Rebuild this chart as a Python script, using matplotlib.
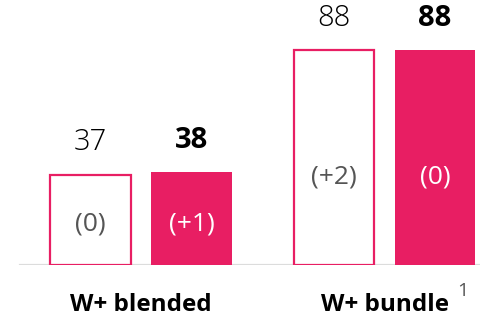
import matplotlib
matplotlib.use("Agg")
import matplotlib.pyplot as plt

categories = ["W+ blended", "W+ bundle"]
prev_values = [37, 88]
curr_values = [38, 88]
prev_changes = ["(0)", "(+2)"]
curr_changes = ["(+1)", "(0)"]
footnote = "1"

PINK = "#E81E63"
GRAY_TXT = "#555555"
plt.rcParams['font.family'] = ['Open Sans', 'DejaVu Sans']

fig = plt.figure(figsize=(4.8, 3.2), dpi=100)
ax = fig.add_axes([0, 55/320, 1, 244.3/320])
ax.set_xlim(-0.579, 1.392)
ax.set_ylim(0, 100)
ax.axis('off')

off = 0.2074
w = 0.33
inner_frac = [0.45, 0.41]
xs = list(range(len(categories)))

ax.bar([x - off for x in xs], prev_values, width=w, facecolor='white',
       edgecolor=PINK, linewidth=1.6, zorder=2)
ax.bar([x + off for x in xs], curr_values, width=w, facecolor=PINK,
       edgecolor='none', zorder=2)
ax.axhline(0, xmin=20/480, xmax=1, color='#dcdcdc', linewidth=1.6, zorder=1)

for i, x in enumerate(xs):
    ax.annotate(str(prev_values[i]), (x - off, prev_values[i]), xytext=(0, 23),
                textcoords='offset points', ha='center', va='center',
                fontsize=21, color='black', fontweight='light')
    ax.annotate(str(curr_values[i]), (x + off, curr_values[i]), xytext=(0, 23),
                textcoords='offset points', ha='center', va='center',
                fontsize=21, color='black', fontweight='bold')
    ax.text(x - off, prev_values[i] * inner_frac[i], prev_changes[i],
            ha='center', va='center', fontsize=19, color=GRAY_TXT)
    ax.text(x + off, prev_values[i] * inner_frac[i], curr_changes[i],
            ha='center', va='center', fontsize=19, color='white')
    ax.annotate(categories[i], (x, 0), xytext=(0, -28.5), textcoords='offset points',
                ha='center', va='center', fontsize=17.5, fontweight='bold', color='black')

ax.annotate(footnote, (1, 0), xytext=(56, -18.5), textcoords='offset points',
            ha='center', va='center', fontsize=14, color=GRAY_TXT)

fig.savefig("out.png", dpi=100)
